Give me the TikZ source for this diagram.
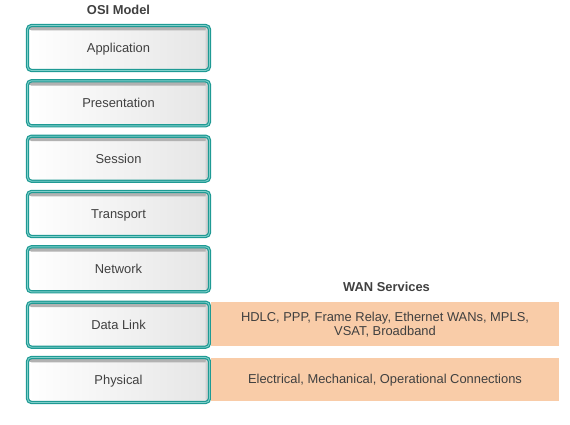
\documentclass[tikz,border=0pt]{standalone}
\usepackage{fontspec}
\setmainfont{Liberation Sans}
\definecolor{layerteal}{HTML}{1F9A94}
\definecolor{layerlight}{HTML}{7FCFCA}
\definecolor{wanorange}{HTML}{F9CCA8}
\definecolor{labelgray}{HTML}{404040}
\tikzset{
  osilayer/.style={draw=layerteal, double=layerlight, double distance=0.9pt, line width=1.2pt,
    rounded corners=4pt, left color=white, right color=gray!20,
    minimum width=182pt, minimum height=45pt, inner sep=0pt,
    text height=9.2pt, text depth=0pt,
    text=labelgray, font=\fontsize{12.9}{14}\selectfont,
    path picture={\fill[gray!60] ([yshift=-1pt]path picture bounding box.north west)
      rectangle ([yshift=-4.8pt]path picture bounding box.north east);
      \fill[gray!35] ([xshift=-1pt]path picture bounding box.north east)
      rectangle ([xshift=-4pt]path picture bounding box.south east);}},
  wanbar/.style={fill=wanorange, draw=none, minimum width=348pt, inner sep=0pt,
    text height=9.2pt, text depth=0pt,
    text=labelgray, align=center, font=\fontsize{12.9}{14}\selectfont},
  heading/.style={text=labelgray, text height=9.2pt, text depth=0pt,
    font=\bfseries\fontsize{12.9}{14}\selectfont}
}
\begin{document}
\begin{tikzpicture}[x=1pt, y=-1pt]
        \useasboundingbox (0, 0) rectangle (570, 424);
        \node[heading] (osititle) at (118.5, 9.5) {OSI Model};
        \node[osilayer] (application) at (118.5, 48) {Application};
        \node[osilayer] (presentation) at (118.5, 103.3) {Presentation};
        \node[osilayer] (session) at (118.5, 158.7) {Session};
        \node[osilayer] (transport) at (118.5, 214) {Transport};
        \node[osilayer] (network) at (118.5, 269.3) {Network};
        \node[osilayer] (datalink) at (118.5, 324.7) {Data Link};
        \node[osilayer] (physical) at (118.5, 380) {Physical};
        % WAN services beside the two lower layers
        \node[heading] (wantitle) at (386.5, 286.7) {WAN Services};
        \node[wanbar, minimum height=44.3pt, text height=23.2pt] (wandatalink) at (385, 323.9)
          {HDLC, PPP, Frame Relay, Ethernet WANs, MPLS,\\VSAT, Broadband};
        \node[wanbar, minimum height=43.4pt] (wanphysical) at (385, 379.2)
          {Electrical, Mechanical, Operational Connections};
    \end{tikzpicture}
\end{document}
